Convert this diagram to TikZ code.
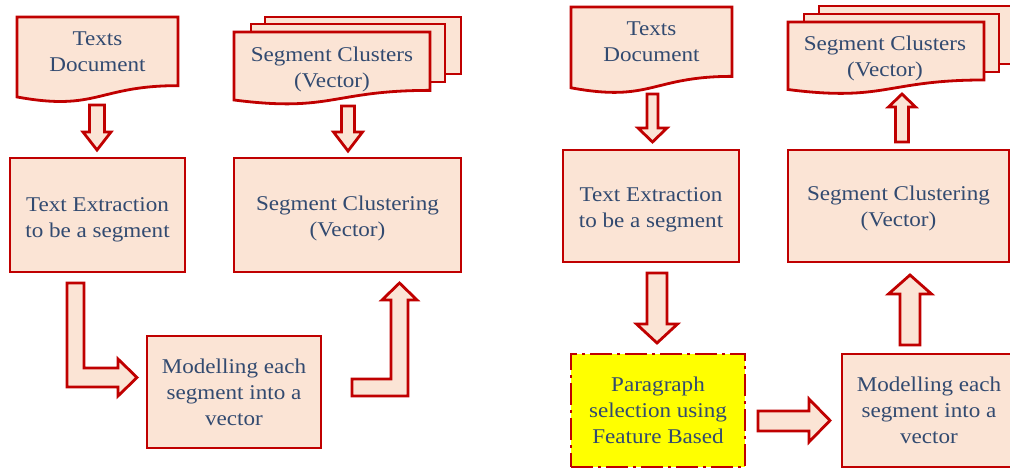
\documentclass[tikz,border=0pt]{standalone}
\usepackage{fontspec}
\setmainfont{Liberation Serif}[FakeStretch=1.1]
\definecolor{bordred}{RGB}{192,0,0}
\definecolor{peach}{RGB}{251,228,213}
\definecolor{txtblue}{RGB}{50,74,112}
\definecolor{hiyellow}{RGB}{255,255,0}
\tikzset{
  shapeline/.style={draw=bordred,fill=peach,line width=2.8pt,line join=miter},
  box/.style={shapeline,inner sep=0pt},
  txt/.style={text=txtblue,align=center,inner sep=0pt,font=\fontsize{21}{26}\selectfont},
  barrow/.style={draw=bordred,fill=peach,line width=2.8pt,line join=miter}
}
\newcommand\docshape[4]{%
  \filldraw[shapeline] (#1,#2) -- (#3,#2) -- (#3,{#2+0.802*#4})
   .. controls ({(#1+#3)/2},{#2+0.802*#4}) and ({(#1+#3)/2},{#2+1.107*#4}) ..
   (#1,{#2+0.934*#4}) -- cycle;}
\newcommand\vblock[6]{%
  \filldraw[barrow] ({#1-#5},#2) -- ({#1+#5},#2) -- ({#1+#5},#3) -- ({#1+#6},#3)
   -- (#1,#4) -- ({#1-#6},#3) -- ({#1-#5},#3) -- cycle;}
\begin{document}
\begin{tikzpicture}[x=1pt,y=-1pt]
\useasboundingbox (0,0) rectangle (1010,468);
\clip (0,0) rectangle (1010,468);
\fill[white] (0,0) rectangle (1010,468);

% ---------- left panel ----------
\docshape{17}{17}{178}{85.6}
\node[txt] (td1) at (97.5,52) {Texts\\Document};

\filldraw[shapeline] (265,17) rectangle (461,74);
\filldraw[shapeline] (251,24) rectangle (445,82);
\docshape{234}{32}{430}{72.8}
\node[txt] (scs1) at (332,69.4) {Segment Clusters\\(Vector)};

\node[box,minimum width=175pt,minimum height=114pt] (te1) at (97.5,215) {};
\node[txt] (te1t) at (97.5,219.4) {Text Extraction\\to be a segment};
\node[box,minimum width=227pt,minimum height=114pt] (sc1) at (347.5,215) {};
\node[txt] (sc1t) at (347.5,218.7) {Segment Clustering\\(Vector)};
\node[box,minimum width=174pt,minimum height=112pt] (mo1) at (234,392) {};
\node[txt] (mo1t) at (234,392.8) {Modelling each\\segment into a\\vector};

\vblock{97}{105}{132}{150}{7.5}{14}
\vblock{348}{106}{132}{151}{6.5}{14.5}

\filldraw[barrow] (67,283) -- (84,283) -- (84,368) -- (118,368) -- (118,359)
  -- (137,377.5) -- (118,396) -- (118,387) -- (67,387) -- cycle;
\filldraw[barrow] (352,379) -- (391,379) -- (391,300) -- (382,300) -- (399.5,283)
  -- (417,300) -- (408,300) -- (408,396) -- (352,396) -- cycle;

% ---------- right panel ----------
\docshape{571}{7}{732}{86.5}
\node[txt] (td2) at (651.5,41.7) {Texts\\Document};

\filldraw[shapeline] (819,6) rectangle (1015,64);
\filldraw[shapeline] (804,14) rectangle (999,72);
\docshape{788}{22}{984}{72.3}
\node[txt] (scs2) at (885,58.7) {Segment Clusters\\(Vector)};

\node[box,minimum width=176pt,minimum height=112pt] (te2) at (651,206) {};
\node[txt] (te2t) at (651,209.4) {Text Extraction\\to be a segment};
\node[box,minimum width=221pt,minimum height=112pt] (sc2) at (898.5,206) {};
\node[txt] (sc2t) at (898.5,208.7) {Segment Clustering\\(Vector)};
\node[box,fill=hiyellow,dash pattern=on 22pt off 5pt on 3pt off 5pt,
  minimum width=174pt,minimum height=113pt] (pa2) at (658,410.5) {};
\node[txt] (pa2t) at (658,410.8) {Paragraph\\selection using\\Feature Based};
\node[box,minimum width=174pt,minimum height=113pt] (mo2) at (929,410.5) {};
\node[txt] (mo2t) at (929,410.8) {Modelling each\\segment into a\\vector};

\vblock{652.5}{94}{128}{142}{5.5}{14.5}
\vblock{657}{273}{324}{343}{10}{20.5}
\vblock{910}{345}{294}{275}{10}{21.5}
\vblock{902}{142}{107}{94}{6.5}{13.5}

\filldraw[barrow] (758,411) -- (809,411) -- (809,399) -- (830,420.5) -- (809,442)
  -- (809,431) -- (758,431) -- cycle;
\end{tikzpicture}
\end{document}
